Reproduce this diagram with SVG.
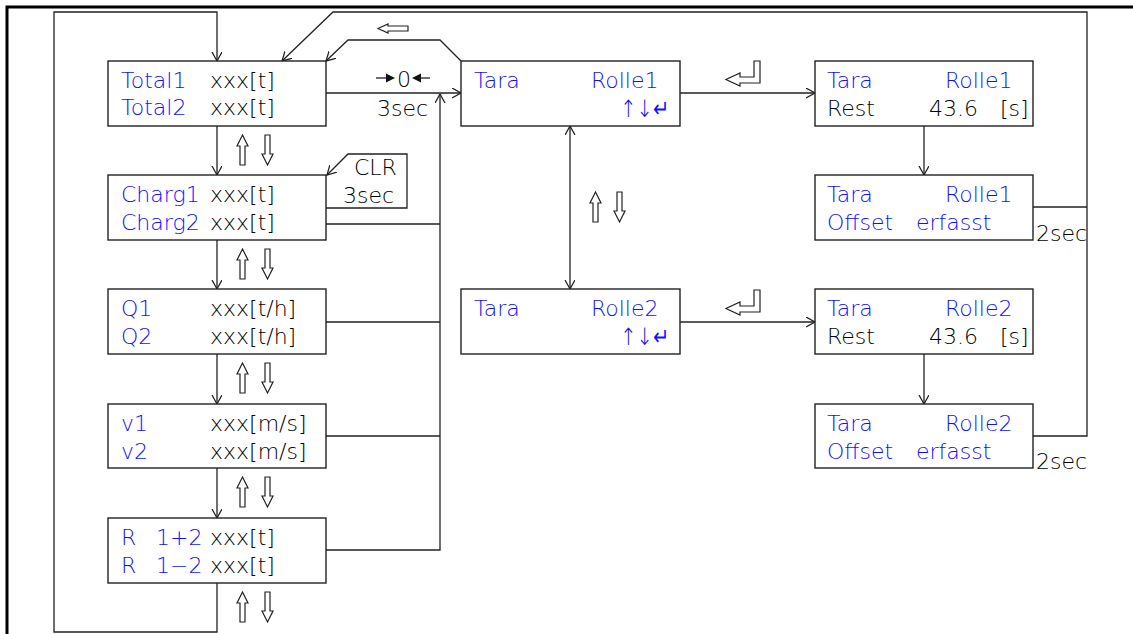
<svg xmlns="http://www.w3.org/2000/svg" width="1133" height="634" viewBox="0 0 1133 634">
<style>
.box{fill:#fff;stroke:#222;stroke-width:1.4}
.ln{fill:none;stroke:#222;stroke-width:1.3}
.arr{marker-end:url(#ah)}
.hol{fill:#fff;stroke:#222;stroke-width:1.2;stroke-linejoin:miter}
text{font-family:"DejaVu Sans","Liberation Sans",sans-serif;font-size:22px;font-weight:200}
.b{fill:#1010ff}
.k{fill:#000}
.sym{font-size:24px}
</style>
<defs>
<marker id="ah" markerUnits="userSpaceOnUse" markerWidth="12" markerHeight="12" refX="9" refY="5" orient="auto">
<path d="M0,0 L9,5 L0,10" fill="none" stroke="#222" stroke-width="1.3"/>
</marker>
<marker id="ahs" markerUnits="userSpaceOnUse" markerWidth="12" markerHeight="12" refX="9" refY="5" orient="auto-start-reverse">
<path d="M0,0 L9,5 L0,10" fill="none" stroke="#222" stroke-width="1.3"/>
</marker>
<polygon id="up" class="hol" points="5.5,0 11,11 8,11 8,30 3,30 3,11 0,11"/>
<polygon id="dn" class="hol" points="3,0 8,0 8,19 11,19 5.5,30 0,19 3,19"/>
<polygon id="ent" class="hol" points="28,0 34,0 34,22 14,22 14,25 0,18.5 14,12 14,16 28,16"/>
</defs>

<!-- frame -->
<path d="M7,634 V7 H1133" fill="none" stroke="#000" stroke-width="3"/>

<g id="connectors">
<path class="ln arr" d="M217,583 V632 H54 V12 H217 V61"/>
<path class="ln arr" d="M1033,436 H1087 V12 H333 L282,61"/>
<path class="ln" d="M1033,207 H1087"/>
<path class="ln arr" d="M461,61 L440,40 H348 L326,61"/>
<path class="ln arr" d="M326,93 H461"/>
<path class="ln arr" d="M326,550 H440 V94"/>
<path class="ln" d="M326,224 H440 M326,322 H440 M326,436 H440"/>
<path class="ln arr" d="M326,208 H407 V154 H348 L327,175"/>
<path class="ln arr" d="M217,126 V175"/>
<path class="ln arr" d="M217,240 V289"/>
<path class="ln arr" d="M217,354 V404"/>
<path class="ln arr" d="M217,468 V518"/>
<path class="ln" d="M570,126 V289" marker-start="url(#ahs)" marker-end="url(#ah)"/>
<path class="ln arr" d="M680,93 H815"/>
<path class="ln arr" d="M680,322 H815"/>
<path class="ln arr" d="M924,126 V175"/>
<path class="ln arr" d="M924,354 V404"/>
<!-- connector labels -->
<path d="M376,78 H388" stroke="#222" stroke-width="1.3"/>
<polygon points="386,73.5 395,78 386,82.5" fill="#111"/>
<text class="k" x="397" y="86.5">0</text>
<polygon points="412,78 421,73.5 421,82.5" fill="#111"/>
<path d="M419,78 H430" stroke="#222" stroke-width="1.3"/>
<text class="k" x="377" y="116">3sec</text>
<text class="k" x="354" y="175">CLR</text>
<text class="k" x="343" y="203">3sec</text>
<polygon class="hol" points="378,28.5 388,24 388,26 408,26 408,31 388,31 388,33"/>
<use href="#ent" x="726" y="61"/>
<use href="#ent" x="726" y="290"/>
<text class="k" x="1036" y="241">2sec</text>
<text class="k" x="1036" y="469">2sec</text>
<use href="#up" x="237" y="135"/><use href="#dn" x="262" y="135"/>
<use href="#up" x="237" y="249"/><use href="#dn" x="262" y="249"/>
<use href="#up" x="237" y="363"/><use href="#dn" x="262" y="363"/>
<use href="#up" x="237" y="477"/><use href="#dn" x="262" y="477"/>
<use href="#up" x="237" y="592"/><use href="#dn" x="262" y="592"/>
<use href="#up" x="590" y="192"/><use href="#dn" x="614" y="192"/>
</g>

<g id="total">
<rect class="box" x="108" y="61" width="218" height="65"/>
<text class="b" x="121" y="88">Total1</text><text class="k" x="210" y="88">xxx[t]</text>
<text class="b" x="121" y="115">Total2</text><text class="k" x="210" y="115">xxx[t]</text>
</g>
<g id="charg">
<rect class="box" x="108" y="175" width="218" height="65"/>
<text class="b" x="121" y="202">Charg1</text><text class="k" x="210" y="202">xxx[t]</text>
<text class="b" x="121" y="230">Charg2</text><text class="k" x="210" y="230">xxx[t]</text>
</g>
<g id="q">
<rect class="box" x="108" y="289" width="218" height="65"/>
<text class="b" x="121" y="316">Q1</text><text class="k" x="210" y="316">xxx[t/h]</text>
<text class="b" x="121" y="344">Q2</text><text class="k" x="210" y="344">xxx[t/h]</text>
</g>
<g id="v">
<rect class="box" x="108" y="404" width="218" height="64"/>
<text class="b" x="121" y="431">v1</text><text class="k" x="210" y="431">xxx[m/s]</text>
<text class="b" x="121" y="459">v2</text><text class="k" x="210" y="459">xxx[m/s]</text>
</g>
<g id="r">
<rect class="box" x="108" y="518" width="218" height="65"/>
<text class="b" x="121" y="545">R</text><text class="b" x="156" y="545">1+2</text><text class="k" x="210" y="545">xxx[t]</text>
<text class="b" x="121" y="573">R</text><text class="b" x="156" y="573">1−2</text><text class="k" x="210" y="573">xxx[t]</text>
</g>
<g id="tara1">
<rect class="box" x="461" y="61" width="219" height="65"/>
<text class="b" x="474" y="88">Tara</text><text class="b" x="591" y="88">Rolle1</text>
<text class="b sym" x="620" y="117" textLength="49" lengthAdjust="spacingAndGlyphs">↑↓↵</text>
</g>
<g id="tara2">
<rect class="box" x="461" y="289" width="219" height="65"/>
<text class="b" x="474" y="316">Tara</text><text class="b" x="591" y="316">Rolle2</text>
<text class="b sym" x="620" y="345" textLength="49" lengthAdjust="spacingAndGlyphs">↑↓↵</text>
</g>
<g id="rest1">
<rect class="box" x="815" y="61" width="218" height="65"/>
<text class="b" x="827" y="88">Tara</text><text class="b" x="945" y="88">Rolle1</text>
<text class="k" x="827" y="116">Rest</text><text class="k" x="929" y="116">43.6</text><text class="k" x="1000" y="116">[s]</text>
</g>
<g id="offset1">
<rect class="box" x="815" y="175" width="218" height="65"/>
<text class="b" x="827" y="202">Tara</text><text class="b" x="945" y="202">Rolle1</text>
<text class="b" x="827" y="230">Offset</text><text class="b" x="916" y="230">erfasst</text>
</g>
<g id="rest2">
<rect class="box" x="815" y="289" width="218" height="65"/>
<text class="b" x="827" y="316">Tara</text><text class="b" x="945" y="316">Rolle2</text>
<text class="k" x="827" y="344">Rest</text><text class="k" x="929" y="344">43.6</text><text class="k" x="1000" y="344">[s]</text>
</g>
<g id="offset2">
<rect class="box" x="815" y="404" width="218" height="64"/>
<text class="b" x="827" y="431">Tara</text><text class="b" x="945" y="431">Rolle2</text>
<text class="b" x="827" y="459">Offset</text><text class="b" x="916" y="459">erfasst</text>
</g>
</svg>
